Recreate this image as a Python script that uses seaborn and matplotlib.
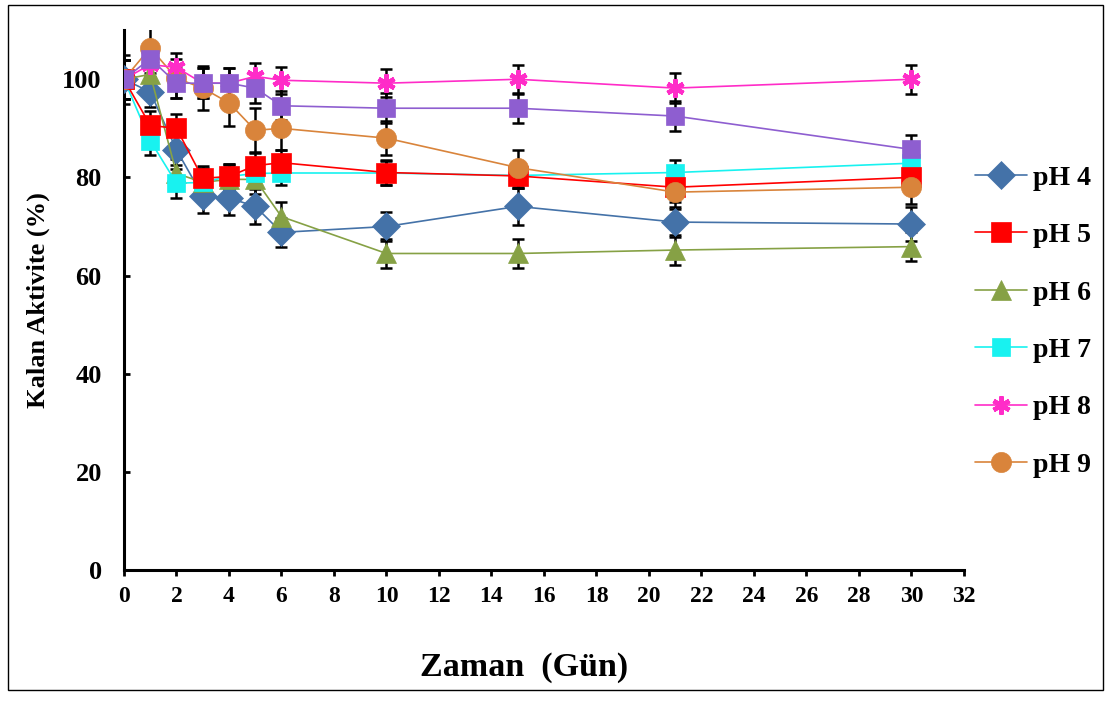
import matplotlib
matplotlib.use('Agg')
import matplotlib.pyplot as plt
import seaborn as sns
from matplotlib.patches import Rectangle
from matplotlib.lines import Line2D

# Zaman (gün)
days = [0, 1, 2, 3, 4, 5, 6, 10, 15, 21, 30]

# Kalan aktivite (%) ve hata çubukları
ph4 = [100, 97.4, 85.6, 76.2, 75.8, 74.1, 68.8, 70.0, 74.1, 70.9, 70.5]
ph4_err = [4, 3, 3, 3.5, 3.5, 3.5, 3, 3, 3.8, 3, 3.5]
ph5 = [100, 90.6, 90.0, 79.8, 80.2, 82.4, 83.0, 81.0, 80.3, 78.0, 80.0]
ph5_err = [4, 3, 3, 2.5, 2.5, 2.5, 2.5, 2.5, 2.5, 3, 3]
ph6 = [100, 101.0, 80.8, 79.0, 79.6, 79.6, 72.0, 64.5, 64.5, 65.2, 65.9]
ph6_err = [4, 3, 3, 3, 3, 3, 3, 3, 3, 3, 3]
ph7 = [100, 87.5, 78.8, 79.0, 80.2, 80.8, 80.9, 80.9, 80.4, 81.0, 82.9]
ph7_err = [4, 3, 3, 2.5, 2.5, 2.5, 2.5, 2.5, 2.5, 2.5, 2.5]
ph8 = [100, 103.0, 102.4, 99.2, 99.2, 100.6, 99.8, 99.2, 100.0, 98.2, 100.0]
ph8_err = [4, 3, 3, 3, 3, 2.8, 2.8, 2.8, 3, 3, 3]
ph9 = [100, 106.4, 100.2, 98.2, 95.2, 89.6, 90.0, 88.0, 82.0, 77.0, 78.0]
ph9_err = [5, 4, 4, 4.5, 4.8, 4.5, 4.5, 3.5, 3.5, 3.5, 3.5]
phx = [100, 104.2, 99.2, 99.2, 99.2, 98.2, 94.6, 94.1, 94.1, 92.5, 85.7]
phx_err = [4, 3, 3, 3, 3, 3, 3, 3, 3, 3, 3]

labels = ['pH 4', 'pH 5', 'pH 6', 'pH 7', 'pH 8', 'pH 9', None]
colors = ['#4472A8', '#FF0000', '#86A145', '#18F2F0', '#FF2CC8', '#D9843B', '#8E5ED0']
markers = ['D', 's', '^', 's', (6, 2, 0), 'o', 's']
msizes = [14.5, 14, 15, 13, 13, 14.5, 13.5]
series = [ph4, ph5, ph6, ph7, ph8, ph9, phx]
errors = [ph4_err, ph5_err, ph6_err, ph7_err, ph8_err, ph9_err, phx_err]

sns.set_theme(style='ticks')
plt.rcParams['font.family'] = ['Liberation Serif', 'DejaVu Serif']
plt.rcParams['font.weight'] = 'bold'
for k in ['text.color', 'axes.labelcolor', 'xtick.color', 'ytick.color', 'axes.edgecolor']:
    plt.rcParams[k] = 'black'

fig = plt.figure(figsize=(11.11, 7.02), dpi=100)
ax = fig.add_axes([0.1116, 0.188, 0.756, 0.769])

# çizim sırası: mor en üstte
order = [0, 2, 3, 1, 5, 4, 6]
for i in order:
    ax.errorbar(days, series[i], yerr=errors[i], fmt='none', ecolor='black',
                elinewidth=1.8, capsize=4.5, capthick=1.8, zorder=2)
for i in order:
    mk = markers[i]
    star = isinstance(mk, tuple)
    sns.lineplot(x=days, y=series[i], ax=ax, color=colors[i], linewidth=1.2,
                 marker=mk, markersize=msizes[i],
                 markeredgecolor=colors[i], markerfacecolor=colors[i],
                 markeredgewidth=3.2 if star else 0.5, zorder=3, legend=False)

handles = []
for i in range(6):
    mk = markers[i]
    star = isinstance(mk, tuple)
    handles.append(Line2D([], [], color=colors[i], linewidth=1.2, marker=mk,
                          markersize=msizes[i], markeredgecolor=colors[i],
                          markerfacecolor=colors[i],
                          markeredgewidth=3.2 if star else 0.5, label=labels[i]))

ax.set_xlim(0, 32)
ax.set_ylim(0, 110)
ax.set_xticks(range(0, 33, 2))
ax.set_yticks(range(0, 101, 20))
ax.tick_params(axis='x', direction='out', length=4.5, width=2, labelsize=17, pad=7)
ax.tick_params(axis='y', direction='in', length=4.5, width=2, labelsize=19, pad=16)
for lab in ax.get_xticklabels() + ax.get_yticklabels():
    lab.set_fontweight('bold')
sns.despine(ax=ax)
for s in ['left', 'bottom']:
    ax.spines[s].set_linewidth(2.2)

ax.set_xlabel('Zaman  (Gün)', fontsize=24.5, fontweight='bold')
ax.xaxis.set_label_coords(0.476, -0.18)
ax.xaxis.label.set_va('center')
ax.set_ylabel('Kalan Aktivite (%)', fontsize=19, fontweight='bold', labelpad=9)

leg = ax.legend(handles=handles, loc='center left',
                bbox_to_anchor=(0.855, 0.542), bbox_transform=fig.transFigure,
                frameon=False, fontsize=20, labelspacing=1.15,
                handlelength=1.87, handletextpad=0.22)
for t in leg.get_texts():
    t.set_fontweight('bold')

fig.patches.append(Rectangle((0.0072, 0.017), 0.9856, 0.9758,
                             transform=fig.transFigure, fill=False,
                             edgecolor='black', linewidth=1.0))

fig.savefig('out.png', dpi=100)
